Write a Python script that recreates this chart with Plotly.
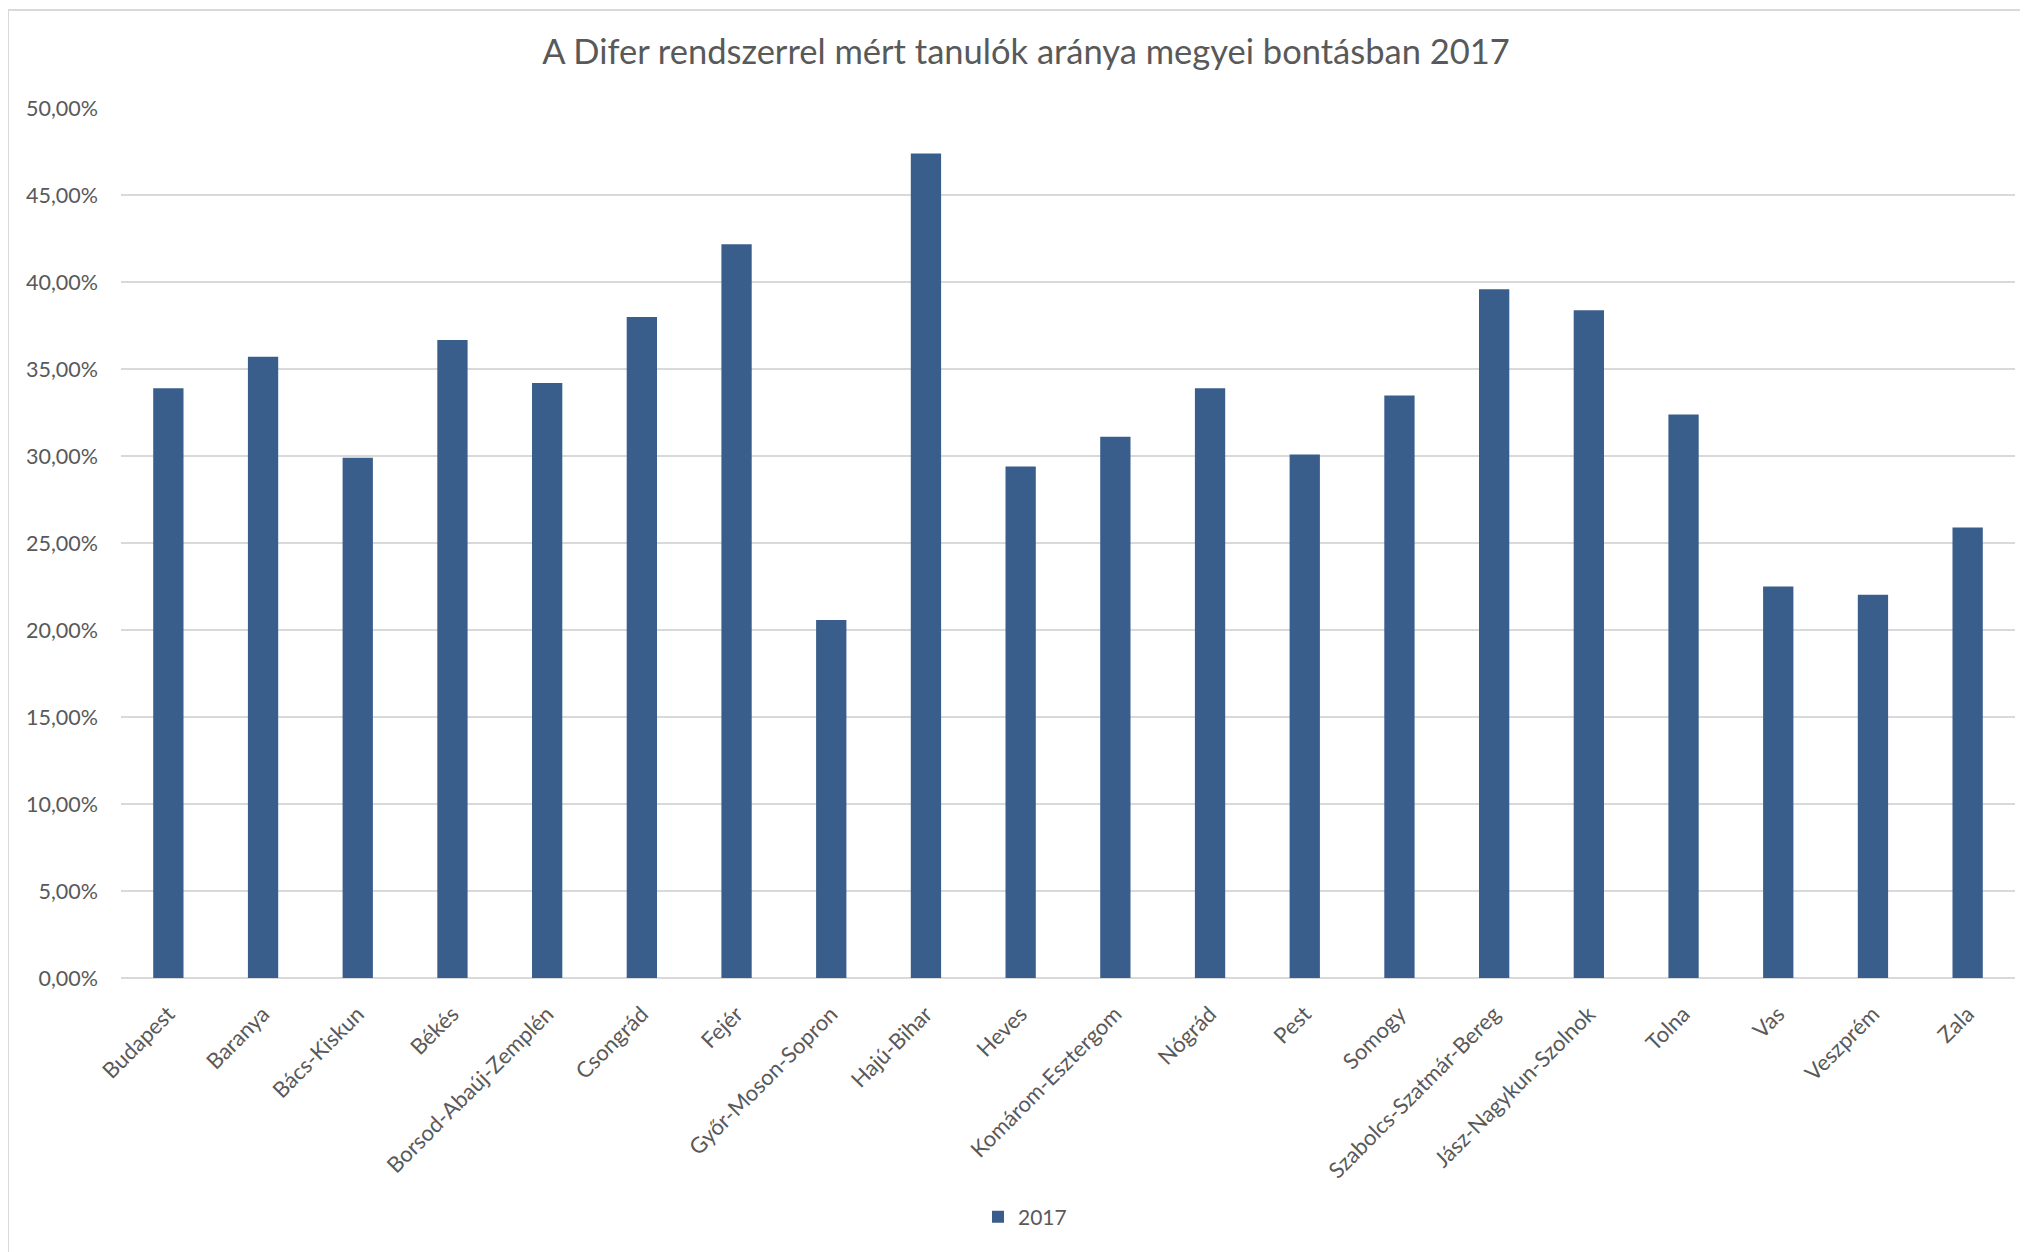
import plotly.graph_objects as go

title_text = "A Difer rendszerrel mért tanulók aránya megyei bontásban 2017"
series_name = "2017"
counties = ["Budapest", "Baranya", "Bács-Kiskun", "Békés", "Borsod-Abaúj-Zemplén",
            "Csongrád", "Fejér", "Győr-Moson-Sopron", "Hajú-Bihar", "Heves",
            "Komárom-Esztergom", "Nógrád", "Pest", "Somogy", "Szabolcs-Szatmár-Bereg",
            "Jász-Nagykun-Szolnok", "Tolna", "Vas", "Veszprém", "Zala"]
values = [0.3389, 0.3570, 0.2990, 0.3666, 0.3420,
          0.3799, 0.4217, 0.2057, 0.4738, 0.2939,
          0.3111, 0.3389, 0.3008, 0.3348, 0.3959,
          0.3838, 0.3238, 0.2250, 0.2202, 0.2589]
y_ticks = [0, 0.05, 0.10, 0.15, 0.20, 0.25, 0.30, 0.35, 0.40, 0.45, 0.50]

# page body has an 8px margin; figure sized to fit the 2028x1252 window
OFF = 8
W, H = 2028 - OFF, 1252 - OFF
L, T = 121 - OFF, 108 - OFF
R = W - (2015 - OFF)
B = H - (978 - OFF)
pw, ph = W - L - R, H - T - B

BAR = "#3a5e8c"
TXT = "#595959"
GRID = "#d9d9d9"
FONT = "Lato"

fig = go.Figure(go.Bar(x=counties, y=values, name=series_name,
                       marker=dict(color=BAR, line=dict(width=0))))

fig.update_layout(
    width=W, height=H,
    margin=dict(l=L, r=R, t=T, b=B),
    paper_bgcolor="white", plot_bgcolor="white",
    separators=", ",
    bargap=0.68,
    font=dict(family=FONT, color=TXT, size=21),
    title=dict(text=title_text, x=(1026 - OFF) / W, xref="container", xanchor="center",
               y=1 - (52 - OFF) / H, yref="container", yanchor="middle",
               font=dict(family=FONT, size=34.5, color=TXT)),
    showlegend=True,
    legend=dict(orientation="h", xref="container", yref="container",
                x=(1025 - OFF) / W, xanchor="center", y=1 - (1217 - OFF) / H,
                yanchor="middle",
                font=dict(family=FONT, size=21, color=TXT)),
    xaxis=dict(type="category", tickangle=-45, showgrid=False, showline=False,
               ticks="", ticklabelstandoff=18,
               tickfont=dict(family=FONT, size=22, color=TXT)),
    yaxis=dict(range=[0, 0.5], tickvals=y_ticks, tickformat=".2%",
               showgrid=True, gridcolor=GRID, gridwidth=2,
               zeroline=True, zerolinecolor=GRID, zerolinewidth=2,
               showline=False, ticks="", ticklabelstandoff=22,
               tickfont=dict(family=FONT, size=21.5, color=TXT)),
    shapes=[dict(type="rect", xref="paper", yref="paper",
                 x0=(0 - L) / pw, x1=(W + 20 - L) / pw,
                 y0=-(B + 20) / ph, y1=(ph + T - 2) / ph,
                 line=dict(color=GRID, width=2), fillcolor="rgba(0,0,0,0)",
                 layer="below")],
)

fig.write_html("out.html")
